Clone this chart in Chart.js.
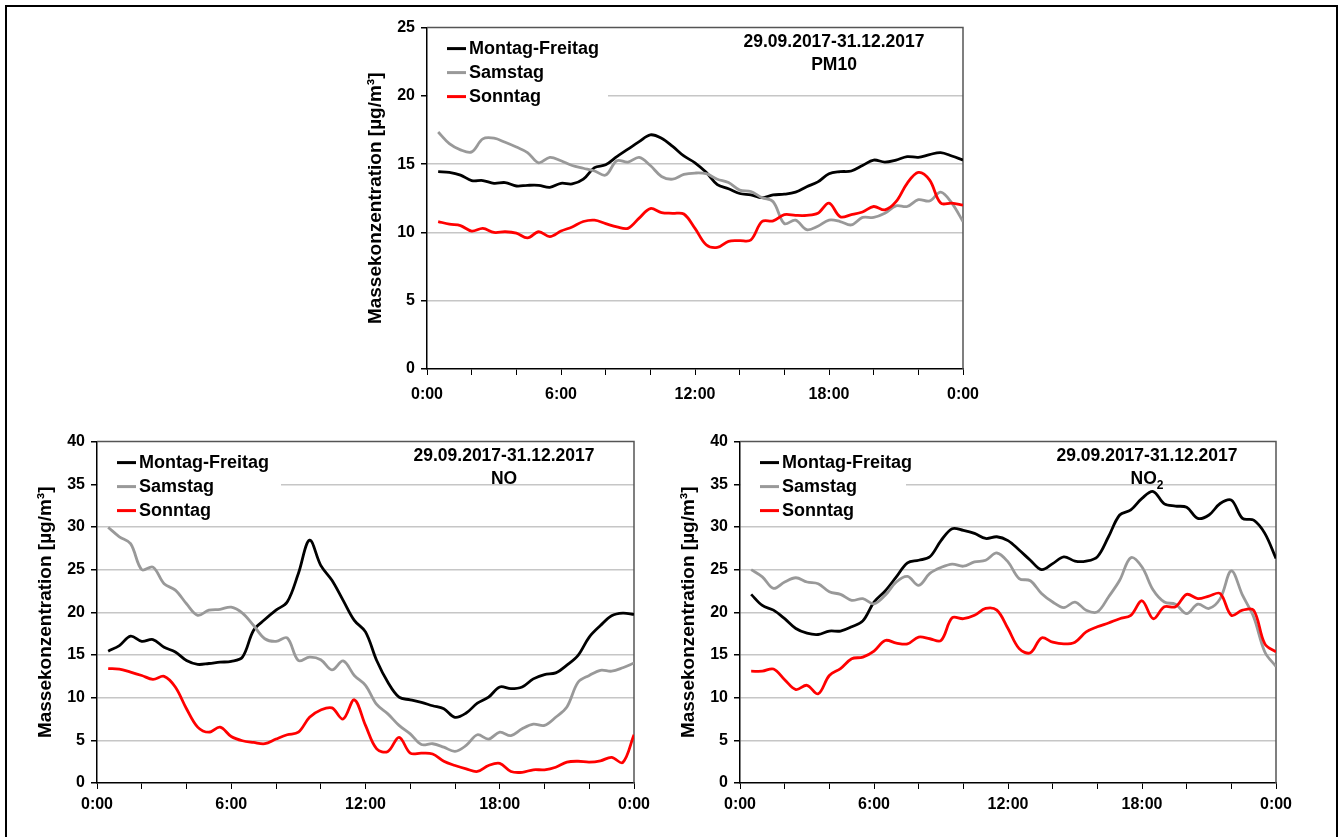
<!DOCTYPE html>
<html lang="de">
<head>
    <meta charset="UTF-8">
    <title>Tagesgänge PM10, NO und NO2</title>
    <script src="https://cdn.jsdelivr.net/npm/chart.js"></script>
    <style>
        body {
            margin: 0;
            width: 1341px;
            height: 837px;
            overflow: hidden;
            position: relative;
            background: #fff;
            font-family: 'Liberation Sans', Arial, sans-serif;
        }
        .frame {
            position: absolute;
            left: 5px;
            top: 5px;
            width: 1329px;
            height: 900px;
            border: 2px solid #000;
        }
        .panel { position: absolute; }
        #pm10Box { left: 355px; top: 12px; width: 640px; height: 398px; }
        #noBox   { left: 22px;  top: 426px; width: 640px; height: 402px; }
        #no2Box  { left: 665px; top: 426px; width: 660px; height: 402px; }
    </style>
</head>
<body>
    <div class="frame"></div>
    <div class="panel" id="pm10Box"><canvas id="pm10Chart"></canvas></div>
    <div class="panel" id="noBox"><canvas id="noChart"></canvas></div>
    <div class="panel" id="no2Box"><canvas id="no2Chart"></canvas></div>

    <script>
        // Halbstundenwerte, Zeitstempel in Stunden
        const hours = [0.5, 1, 1.5, 2, 2.5, 3, 3.5, 4, 4.5, 5, 5.5, 6,
                       6.5, 7, 7.5, 8, 8.5, 9, 9.5, 10, 10.5, 11, 11.5, 12,
                       12.5, 13, 13.5, 14, 14.5, 15, 15.5, 16, 16.5, 17, 17.5, 18,
                       18.5, 19, 19.5, 20, 20.5, 21, 21.5, 22, 22.5, 23, 23.5, 24];

        const seriesNames = ['Montag-Freitag', 'Samstag', 'Sonntag'];
        const periodLabel = '29.09.2017-31.12.2017';

        // PM10
        const pm10Week = [14.45, 14.4, 14.2, 13.8, 13.8, 13.6, 13.65, 13.4, 13.45, 13.45, 13.3, 13.6,
                          13.55, 13.9, 14.75, 14.95, 15.55, 16.1, 16.65, 17.15, 16.9, 16.3, 15.6, 15.1,
                          14.4, 13.5, 13.2, 12.85, 12.75, 12.55, 12.75, 12.8, 12.95, 13.35, 13.7, 14.3,
                          14.45, 14.5, 14.9, 15.3, 15.15, 15.3, 15.55, 15.5, 15.7, 15.85, 15.6, 15.3];
        const pm10Sat = [17.35, 16.5, 16.05, 15.9, 16.85, 16.9, 16.6, 16.25, 15.85, 15.1, 15.5, 15.25,
                         14.9, 14.7, 14.5, 14.2, 15.25, 15.15, 15.5, 14.9, 14.1, 13.9, 14.25, 14.35,
                         14.3, 13.9, 13.65, 13.1, 13.0, 12.55, 12.25, 10.65, 10.9, 10.2, 10.45, 10.9,
                         10.8, 10.55, 11.1, 11.1, 11.4, 11.95, 11.9, 12.4, 12.3, 12.95, 12.15, 10.8];
        const pm10Sun = [10.8, 10.6, 10.5, 10.1, 10.3, 10.0, 10.05, 9.95, 9.6, 10.05, 9.7, 10.1,
                         10.4, 10.8, 10.9, 10.65, 10.4, 10.3, 11.05, 11.75, 11.45, 11.4, 11.35, 10.3,
                         9.1, 8.9, 9.35, 9.4, 9.45, 10.8, 10.85, 11.3, 11.25, 11.25, 11.4, 12.15,
                         11.15, 11.3, 11.5, 11.9, 11.65, 12.25, 13.6, 14.4, 13.85, 12.15, 12.15, 12.0];

        // NO
        const noWeek = [15.45, 16.1, 17.2, 16.6, 16.8, 15.9, 15.35, 14.35, 13.9, 14.0, 14.15, 14.25,
                        14.75, 17.9, 19.15, 20.25, 21.2, 24.55, 28.45, 25.5, 23.75, 21.4, 19.05, 17.7,
                        14.35, 11.8, 10.05, 9.75, 9.45, 9.05, 8.7, 7.7, 8.2, 9.35, 10.05, 11.25,
                        11.05, 11.25, 12.2, 12.7, 12.9, 13.8, 14.95, 17.1, 18.45, 19.6, 19.9, 19.75];
        const noSat = [29.95, 28.85, 28.05, 25.0, 25.3, 23.35, 22.6, 21.0, 19.65, 20.25, 20.35, 20.6,
                       19.9, 18.45, 16.9, 16.6, 17.0, 14.35, 14.75, 14.45, 13.25, 14.3, 12.6, 11.45,
                       9.2, 8.1, 6.75, 5.75, 4.5, 4.6, 4.2, 3.7, 4.4, 5.65, 5.15, 5.95,
                       5.55, 6.35, 6.9, 6.75, 7.7, 8.9, 11.8, 12.6, 13.2, 13.1, 13.5, 14.05];
        const noSun = [13.4, 13.35, 13.0, 12.6, 12.15, 12.5, 11.25, 8.7, 6.55, 5.95, 6.55, 5.45,
                       4.95, 4.75, 4.6, 5.15, 5.65, 5.95, 7.7, 8.55, 8.8, 7.5, 9.75, 6.75,
                       4.0, 3.7, 5.35, 3.5, 3.5, 3.4, 2.55, 2.05, 1.65, 1.35, 2.05, 2.3,
                       1.35, 1.25, 1.55, 1.55, 1.85, 2.45, 2.55, 2.45, 2.6, 3.0, 2.4, 5.65];

        // NO2
        const no2Week = [22.1, 20.8, 20.25, 19.25, 18.1, 17.55, 17.4, 17.8, 17.8, 18.3, 19.0, 21.2,
                         22.5, 24.15, 25.8, 26.1, 26.5, 28.4, 29.8, 29.6, 29.25, 28.65, 28.85, 28.4,
                         27.3, 26.1, 25.0, 25.7, 26.5, 26.0, 26.0, 26.5, 28.85, 31.4, 32.0, 33.35,
                         34.15, 32.7, 32.45, 32.3, 31.0, 31.4, 32.75, 33.15, 31.0, 30.8, 29.25, 26.3];
        const no2Sat = [25.0, 24.15, 22.8, 23.55, 24.05, 23.55, 23.35, 22.4, 22.1, 21.4, 21.6, 21.0,
                        22.0, 23.55, 24.2, 23.15, 24.55, 25.25, 25.65, 25.4, 25.9, 26.1, 26.95, 25.9,
                        23.95, 23.7, 22.2, 21.2, 20.55, 21.2, 20.25, 20.05, 21.8, 23.75, 26.4, 25.3,
                        22.6, 21.2, 20.95, 19.85, 20.95, 20.45, 21.6, 24.85, 22.0, 19.45, 15.35, 13.65];
        const no2Sun = [13.1, 13.1, 13.35, 12.1, 10.95, 11.45, 10.45, 12.6, 13.4, 14.55, 14.75, 15.45,
                        16.7, 16.4, 16.3, 17.1, 16.9, 16.7, 19.35, 19.25, 19.65, 20.45, 20.25, 18.1,
                        15.75, 15.25, 17.0, 16.5, 16.3, 16.5, 17.7, 18.3, 18.75, 19.25, 19.65, 21.35,
                        19.25, 20.65, 20.65, 22.1, 21.6, 21.9, 22.2, 19.65, 20.25, 20.25, 16.3, 15.35];

        const seriesColors = ['#000000', '#999999', '#ff0000'];
        const fontFamily = "'Liberation Sans', Arial, sans-serif";

        // Rahmen, Legende und Beschriftung im Diagrammfeld
        const panelDeco = {
            id: 'panelDeco',
            beforeDatasetsDraw(chart, args, opts) {
                const ctx = chart.ctx;
                const a = chart.chartArea;
                ctx.save();

                ctx.strokeStyle = '#555';
                ctx.lineWidth = 1.5;
                ctx.beginPath();
                ctx.moveTo(a.left, a.top);
                ctx.lineTo(a.right, a.top);
                ctx.lineTo(a.right, a.bottom);
                ctx.stroke();

                ctx.fillStyle = '#fff';
                ctx.fillRect(a.left + 1, a.top + 8, opts.legendWidth, 76);

                ctx.font = 'bold 18px ' + fontFamily;
                ctx.textBaseline = 'middle';
                ctx.textAlign = 'left';
                chart.data.datasets.forEach((ds, i) => {
                    const y = a.top + 21 + i * 24;
                    ctx.strokeStyle = ds.borderColor;
                    ctx.lineWidth = 3;
                    ctx.beginPath();
                    ctx.moveTo(a.left + 20, y);
                    ctx.lineTo(a.left + 39, y);
                    ctx.stroke();
                    ctx.fillStyle = '#000';
                    ctx.fillText(ds.label, a.left + 42, y);
                });

                const cx = a.left + 407;
                ctx.font = 'bold 17.5px ' + fontFamily;
                ctx.textAlign = 'center';
                ctx.fillText(periodLabel, cx, a.top + 15);
                if (opts.subscript) {
                    const mainW = ctx.measureText(opts.substance).width;
                    ctx.font = 'bold 12px ' + fontFamily;
                    const subW = ctx.measureText(opts.subscript).width;
                    const x0 = cx - (mainW + subW) / 2;
                    ctx.textAlign = 'left';
                    ctx.font = 'bold 17.5px ' + fontFamily;
                    ctx.fillText(opts.substance, x0, a.top + 38);
                    ctx.font = 'bold 12px ' + fontFamily;
                    ctx.fillText(opts.subscript, x0 + mainW, a.top + 44);
                } else {
                    ctx.fillText(opts.substance, cx, a.top + 38);
                }
                ctx.restore();
            }
        };

        function buildChart(canvasId, cfg) {
            const values = [cfg.week, cfg.sat, cfg.sun];
            const datasets = seriesNames.map((name, i) => ({
                label: name,
                data: hours.map((h, k) => ({ x: h, y: values[i][k] })),
                borderColor: seriesColors[i],
                borderWidth: 2.8,
                pointRadius: 0,
                tension: 0.35,
                fill: false,
                order: 3 - i
            }));

            return new Chart(document.getElementById(canvasId), {
                type: 'line',
                data: { datasets: datasets },
                plugins: [panelDeco],
                options: {
                    responsive: true,
                    maintainAspectRatio: false,
                    animation: false,
                    layout: { padding: { top: cfg.padTop, right: cfg.padRight, left: 0, bottom: 0 } },
                    scales: {
                        x: {
                            type: 'linear',
                            min: 0,
                            max: 24,
                            afterFit: s => { s.height = cfg.xHeight; },
                            grid: {
                                drawOnChartArea: false,
                                drawTicks: true,
                                tickLength: 6,
                                tickColor: '#000'
                            },
                            border: { color: '#000', width: 1.5 },
                            ticks: {
                                stepSize: 2,
                                autoSkip: false,
                                maxRotation: 0,
                                padding: cfg.xPad,
                                color: '#000',
                                font: { family: fontFamily, size: 16, weight: 'bold' },
                                callback: v => (v % 6 === 0 ? (v % 24) + ':00' : '')
                            }
                        },
                        y: {
                            min: 0,
                            max: cfg.yMax,
                            afterFit: s => { s.width = cfg.yWidth; },
                            grid: {
                                color: ctx => (ctx.tick.value === 0 || ctx.tick.value === cfg.yMax ? 'rgba(0,0,0,0)' : '#c6c6c6'),
                                lineWidth: 1.5,
                                tickLength: 6,
                                tickColor: '#000'
                            },
                            border: { color: '#000', width: 1.5 },
                            ticks: {
                                stepSize: 5,
                                padding: 6,
                                color: '#000',
                                font: { family: fontFamily, size: 16, weight: 'bold' }
                            },
                            title: {
                                display: true,
                                text: 'Massekonzentration [µg/m³]',
                                color: '#000',
                                padding: { top: cfg.titlePad, bottom: 0 },
                                font: { family: fontFamily, size: 19, weight: 'bold' }
                            }
                        }
                    },
                    plugins: {
                        legend: { display: false },
                        tooltip: { enabled: false },
                        panelDeco: {
                            legendWidth: cfg.legendWidth,
                            substance: cfg.substance,
                            subscript: cfg.subscript
                        }
                    }
                }
            });
        }

        buildChart('pm10Chart', {
            week: pm10Week, sat: pm10Sat, sun: pm10Sun,
            yMax: 25, substance: 'PM10', subscript: '',
            yWidth: 72, xHeight: 41, padTop: 9, padRight: 32, xPad: 10,
            titlePad: 9, legendWidth: 180
        });
        buildChart('noChart', {
            week: noWeek, sat: noSat, sun: noSun,
            yMax: 40, substance: 'NO', subscript: '',
            yWidth: 75, xHeight: 45, padTop: 11, padRight: 28, xPad: 6,
            titlePad: 12, legendWidth: 183
        });
        buildChart('no2Chart', {
            week: no2Week, sat: no2Sat, sun: no2Sun,
            yMax: 40, substance: 'NO', subscript: '2',
            yWidth: 75, xHeight: 45, padTop: 11, padRight: 49, xPad: 6,
            titlePad: 12, legendWidth: 165
        });
    </script>
</body>
</html>
